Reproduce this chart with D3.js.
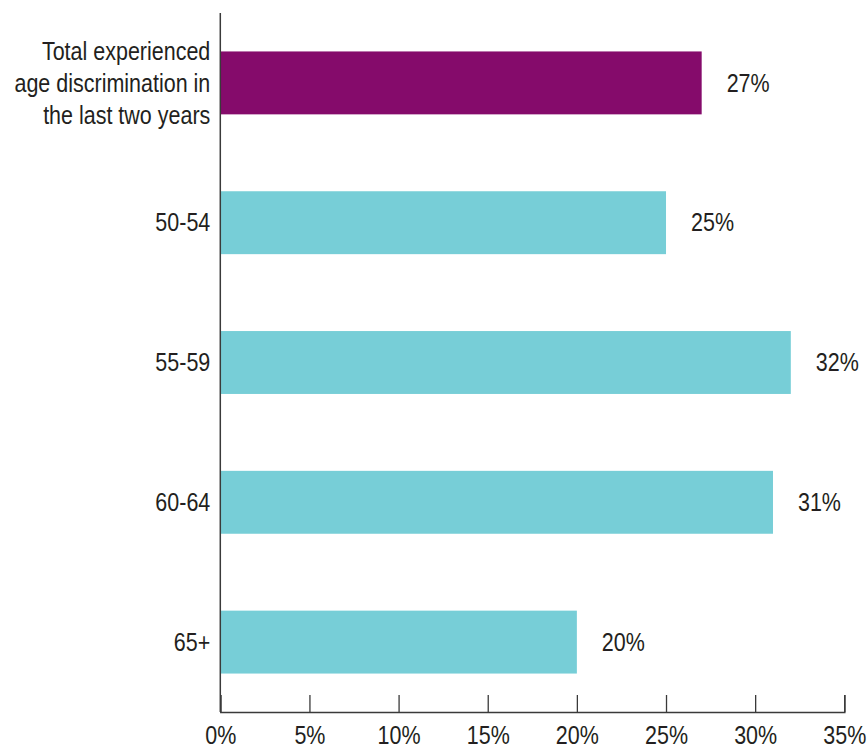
<!DOCTYPE html>
<html>
<head>
<meta charset="utf-8">
<script src="https://cdn.jsdelivr.net/npm/d3@7"></script>
<style>
  html, body { margin: 0; padding: 0; background: #fff; }
  svg text { font-family: "Liberation Sans", Arial, sans-serif; fill: #231f20; }
</style>
</head>
<body>
<svg id="chart" width="868" height="749"></svg>
<script>
const categories = [
  ["Total experienced", "age discrimination in", "the last two years"],
  ["50-54"],
  ["55-59"],
  ["60-64"],
  ["65+"]
];
const values = [27, 25, 32, 31, 20];
const barColors = ["#850b6b", "#77ced7", "#77ced7", "#77ced7", "#77ced7"];
const tickValues = [0, 5, 10, 15, 20, 25, 30, 35];

(function () {
const svg = d3.select("#chart");
const mLeft = 220.3, mRight = 844.3, mTop = 13, mBottom = 712;
const fontSize = 25;
const sx = 0.86; // condensed look

const x = d3.scaleLinear().domain([0, 35]).range([mLeft, mRight]);
const y = d3.scaleBand().domain(d3.range(values.length)).range([mTop, mBottom])
  .paddingInner(0.55).paddingOuter(0.275);

const squeeze = ax => `translate(${ax},0) scale(${sx},1) translate(${-ax},0)`;

// bars
svg.append("g").selectAll("rect").data(values).join("rect")
  .attr("x", x(0))
  .attr("y", (d, i) => y(i))
  .attr("width", d => x(d) - x(0))
  .attr("height", y.bandwidth())
  .attr("fill", (d, i) => barColors[i]);

// value labels
svg.append("g").selectAll("text").data(values).join("text")
  .attr("x", d => x(d) + 25)
  .attr("y", (d, i) => y(i) + y.bandwidth() / 2)
  .attr("dy", "0.35em")
  .attr("font-size", fontSize)
  .attr("transform", d => squeeze(x(d) + 25))
  .text(d => d + "%");

// x axis (ticks pointing up)
const xAxis = d3.axisBottom(x).tickValues(tickValues).tickSize(-17).tickPadding(28)
  .tickFormat(d => d + "%");
const gx = svg.append("g").attr("transform", `translate(0,${mBottom})`).call(xAxis);
gx.attr("font-family", null).attr("font-size", null);
gx.select(".domain").attr("stroke", "#3a3a3a").attr("stroke-width", 1.5);
gx.selectAll(".tick line").attr("stroke", "#3a3a3a").attr("stroke-width", 1.3);
gx.selectAll(".tick text").attr("font-size", fontSize).attr("fill", "#231f20")
  .attr("dy", "0.35em").attr("y", 23).attr("transform", `scale(${sx},1)`);

// y axis line
svg.append("line")
  .attr("x1", mLeft).attr("x2", mLeft)
  .attr("y1", mTop).attr("y2", mBottom)
  .attr("stroke", "#3a3a3a").attr("stroke-width", 1.5);

// category labels
const lineH = 32;
const ax = mLeft - 10;
const cat = svg.append("g").selectAll("text").data(categories).join("text")
  .attr("text-anchor", "end")
  .attr("font-size", fontSize)
  .attr("transform", squeeze(ax))
  .attr("y", (d, i) => y(i) + y.bandwidth() / 2 - (d.length - 1) * lineH / 2);
cat.selectAll("tspan").data(d => d).join("tspan")
  .attr("x", ax)
  .attr("dy", (d, j) => j === 0 ? "0.35em" : lineH)
  .text(d => d);
})();
</script>
</body>
</html>
